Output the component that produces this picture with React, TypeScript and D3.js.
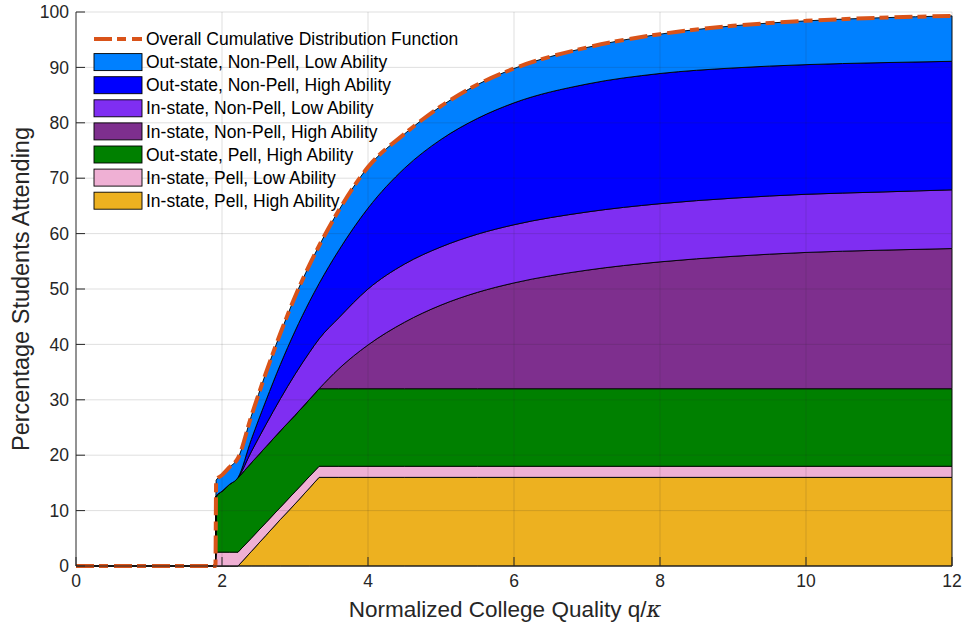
import React from "react";
import * as d3 from "d3";

const quality = [0, 1.91, 1.92, 2.0, 2.1, 2.22, 2.4, 2.6, 2.8, 3.0, 3.2, 3.33, 3.6, 4.0, 4.5, 5.0, 5.5, 6.0, 7.0, 8.0, 9.0, 10.0, 11.0, 12.0];

// layer thicknesses (percentage points), bottom to top
const inPellHigh = [0, 0, 0, 0, 0, 0, 2.6, 5.5, 8.4, 11.2, 14.1, 16, 16, 16, 16, 16, 16, 16, 16, 16, 16, 16, 16, 16];
const inPellLow = [0, 0, 2.5, 2.5, 2.5, 2.5, 2.4, 2.3, 2.2, 2.2, 2.1, 2, 2, 2, 2, 2, 2, 2, 2, 2, 2, 2, 2, 2];
const outPellHigh = [0, 0, 10.1, 11, 12.2, 13.5, 13.6, 13.7, 13.8, 13.8, 13.9, 14, 14, 14, 14, 14, 14, 14, 14, 14, 14, 14, 14, 14];
const inNonPellHigh = [0, 0, 0, 0, 0, 0, 0, 0, 0, 0, 0, 0, 3.6, 7.9, 12, 15.1, 17.4, 19.1, 21.4, 22.9, 23.9, 24.6, 25.0, 25.3];
const inNonPellLow = [0, 0, 0, 0, 0, 0, 2.0, 4.0, 5.8, 7.4, 8.5, 9.0, 9.2, 10.1, 10.5, 10.5, 10.5, 10.5, 10.5, 10.5, 10.5, 10.5, 10.5, 10.6];
const outNonPellHigh = [0, 0, 0, 0, 0, 0, 2.2, 4.3, 6.2, 7.8, 9.2, 10.0, 12.2, 14.6, 17.3, 19.4, 20.9, 22.0, 23.1, 23.5, 23.5, 23.4, 23.35, 23.2];
const outNonPellLow = [0, 0, 2.9, 2.9, 3.1, 3.5, 4.2, 5.0, 5.6, 6.2, 6.6, 6.8, 7.2, 7.4, 6.2, 6.0, 6.1, 6.2, 6.6, 7.1, 7.6, 7.9, 8.1, 8.2];

const xTicks = [0, 2, 4, 6, 8, 10, 12];
const yTicks = [0, 10, 20, 30, 40, 50, 60, 70, 80, 90, 100];

const layers = [
  { key: "inPellHigh", label: "In-state, Pell, High Ability", values: inPellHigh, color: "#edb120", smooth: false },
  { key: "inPellLow", label: "In-state, Pell, Low Ability", values: inPellLow, color: "#efb0d4", smooth: false },
  { key: "outPellHigh", label: "Out-state, Pell, High Ability", values: outPellHigh, color: "#008000", smooth: false },
  { key: "inNonPellHigh", label: "In-state, Non-Pell, High Ability", values: inNonPellHigh, color: "#7e2f8e", smooth: true },
  { key: "inNonPellLow", label: "In-state, Non-Pell, Low Ability", values: inNonPellLow, color: "#7f2ef2", smooth: true },
  { key: "outNonPellHigh", label: "Out-state, Non-Pell, High Ability", values: outNonPellHigh, color: "#0000ff", smooth: true },
  { key: "outNonPellLow", label: "Out-state, Non-Pell, Low Ability", values: outNonPellLow, color: "#0080ff", smooth: true },
];

const cdfLabel = "Overall Cumulative Distribution Function";

export default function App() {
  const W = 964, H = 629;
  const m = { l: 76, r: 12, t: 12, b: 63 };
  const x = d3.scaleLinear().domain([0, 12]).range([m.l, W - m.r]);
  const y = d3.scaleLinear().domain([0, 100]).range([H - m.b, m.t]);

  const rows = quality.map((q, i) => {
    const r: any = { q };
    layers.forEach((l) => (r[l.key] = l.values[i]));
    return r;
  });
  const stack = d3.stack<any>().keys(layers.map((l) => l.key));
  const series = stack(rows);
  const makeArea = (smooth: boolean) =>
    d3
      .area<any>()
      .curve(smooth ? d3.curveMonotoneX : d3.curveLinear)
      .x((d) => x(d.data.q))
      .y0((d) => y(d[0]))
      .y1((d) => y(d[1]));
  const total = rows.map((r) => ({ q: r.q, v: layers.reduce((s, l) => s + r[l.key], 0) }));
  const line = d3
    .line<any>()
    .curve(d3.curveMonotoneX)
    .x((d) => x(d.q))
    .y((d) => y(d.v));

  const font = "'Liberation Sans', Arial, Helvetica, sans-serif";
  const axisColor = "#262626";
  const tickLen = 9;
  const dash = "18 5 9 6";

  const legendItems = [...layers].reverse();
  const legX = 94, legY0 = 39, legStep = 23.1;

  return (
    <svg width={W} height={H} style={{ position: "absolute", left: 0, top: 0, background: "#fff" }} fontFamily={font}>
      <rect x={0} y={0} width={W} height={H} fill="#fff" />
      {series.map((s, i) => (
        <path key={s.key} d={makeArea(layers[i].smooth)(s) || ""} fill={layers[i].color} stroke="#000" strokeWidth={0.9} strokeLinejoin="round" />
      ))}
      {/* grid */}
      <g stroke={axisColor} strokeOpacity={0.15} strokeWidth={1}>
        {xTicks.slice(1).map((t) => (
          <line key={"gx" + t} x1={x(t)} x2={x(t)} y1={y(0)} y2={y(100)} />
        ))}
        {yTicks.slice(1).map((t) => (
          <line key={"gy" + t} x1={x(0)} x2={x(12)} y1={y(t)} y2={y(t)} />
        ))}
      </g>
      {/* CDF */}
      <path d={line(total) || ""} fill="none" stroke="#d95319" strokeWidth={4} strokeDasharray={dash} />
      {/* axes */}
      <g stroke={axisColor} strokeWidth={1}>
        <line x1={x(0)} x2={x(0)} y1={y(0)} y2={y(100)} />
        <line x1={x(0)} x2={x(12)} y1={y(0)} y2={y(0)} />
        {xTicks.map((t) => (
          <line key={"tx" + t} x1={x(t)} x2={x(t)} y1={y(0)} y2={y(0) - tickLen} />
        ))}
        {yTicks.map((t) => (
          <line key={"ty" + t} x1={x(0)} x2={x(0) + tickLen} y1={y(t)} y2={y(t)} />
        ))}
      </g>
      <g fill={axisColor} fontSize={17.5}>
        {xTicks.map((t) => (
          <text key={"lx" + t} x={x(t)} y={y(0) + 21} textAnchor="middle">
            {t}
          </text>
        ))}
        {yTicks.map((t) => (
          <text key={"ly" + t} x={x(0) - 7} y={y(t)} dy="0.35em" textAnchor="end">
            {t}
          </text>
        ))}
      </g>
      <text x={505} y={617} textAnchor="middle" fontSize={22.5} fill={axisColor}>
        Normalized College Quality q/
        <tspan fontFamily="'DejaVu Serif', serif" fontStyle="italic">κ</tspan>
      </text>
      <text transform={`translate(29,${(y(0) + y(100)) / 2}) rotate(-90)`} textAnchor="middle" fontSize={23.5} fill={axisColor}>
        Percentage Students Attending
      </text>
      {/* legend */}
      <g fontSize={17.5} fill="#000">
        <line x1={legX} x2={legX + 48} y1={legY0} y2={legY0} stroke="#d95319" strokeWidth={4} strokeDasharray={dash} />
        <text x={legX + 52} y={legY0} dy="0.35em">{cdfLabel}</text>
        {legendItems.map((l, i) => {
          const cy = legY0 + legStep * (i + 1);
          return (
            <g key={"leg" + l.key}>
              <rect x={legX} y={cy - 8.5} width={48} height={17} fill={l.color} stroke="#000" strokeWidth={0.9} />
              <text x={legX + 52} y={cy} dy="0.35em">{l.label}</text>
            </g>
          );
        })}
      </g>
    </svg>
  );
}
